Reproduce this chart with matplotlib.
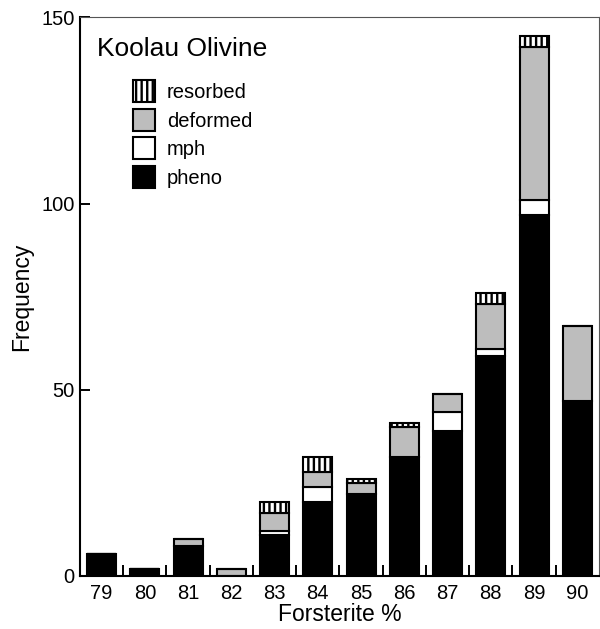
import matplotlib
matplotlib.use("Agg")
import matplotlib.pyplot as plt
from matplotlib.patches import Patch

plt.rcParams["font.family"] = ["Liberation Sans", "DejaVu Sans"]
plt.rcParams["hatch.linewidth"] = 1.7

# Olivine counts per forsterite bin, stacked bottom to top
forsterite = [79, 80, 81, 82, 83, 84, 85, 86, 87, 88, 89, 90]
pheno = [6, 2, 8, 0, 11, 20, 22, 32, 39, 59, 97, 47]
mph = [0, 0, 0, 0, 1, 4, 0, 0, 5, 2, 4, 0]
deformed = [0, 0, 2, 2, 5, 4, 3, 8, 5, 12, 41, 20]
resorbed = [0, 0, 0, 0, 3, 4, 1, 1, 0, 3, 3, 0]

categories = ["pheno", "mph", "deformed", "resorbed"]
series = [pheno, mph, deformed, resorbed]
styles = {
    "pheno": dict(facecolor="black", hatch=None),
    "mph": dict(facecolor="white", hatch=None),
    "deformed": dict(facecolor="#bdbdbd", hatch=None),
    "resorbed": dict(facecolor="white", hatch="|||"),
}

fig = plt.figure(figsize=(6.0, 6.29), dpi=100)
ax = fig.add_axes([0.1333, 0.0843, 0.865, 0.888])

bottom = [0] * len(forsterite)
for name, vals in zip(categories, series):
    ax.bar(forsterite, vals, width=0.67, bottom=bottom, edgecolor="black",
           linewidth=1.5, **styles[name])
    bottom = [b + v for b, v in zip(bottom, vals)]

ax.set_xlim(78.5, 90.5)
ax.set_ylim(0, 150)

ax.set_xticks(forsterite)
ax.set_xticks([x + 0.5 for x in forsterite[:-1]], minor=True)
ax.tick_params(axis="x", which="major", length=0, pad=6, labelsize=14.5)
ax.tick_params(axis="x", which="minor", direction="in", length=8, width=1.4)
ax.set_yticks([0, 50, 100, 150])
ax.tick_params(axis="y", direction="in", length=7, width=1.4, pad=4, labelsize=14.5)

for side in ["left", "bottom"]:
    ax.spines[side].set_linewidth(1.5)
for side in ["top", "right"]:
    ax.spines[side].set_linewidth(0.8)
    ax.spines[side].set_color("#555555")

ax.set_xlabel("Forsterite %", fontsize=16.5, labelpad=0)
ax.set_ylabel("Frequency", fontsize=16.5, labelpad=6)

ax.text(0.032, 0.943, "Koolau Olivine", transform=ax.transAxes, fontsize=19,
        ha="left", va="center")

handles = [Patch(edgecolor="black", linewidth=1.5, **styles[n]) for n in reversed(categories)]
ax.legend(handles, list(reversed(categories)), loc="upper left",
          bbox_to_anchor=(0.068, 0.92), frameon=False, fontsize=14.5,
          handlelength=1.05, handleheight=1.3, handletextpad=0.6, labelspacing=0.33)

fig.savefig("out.png", dpi=100)
